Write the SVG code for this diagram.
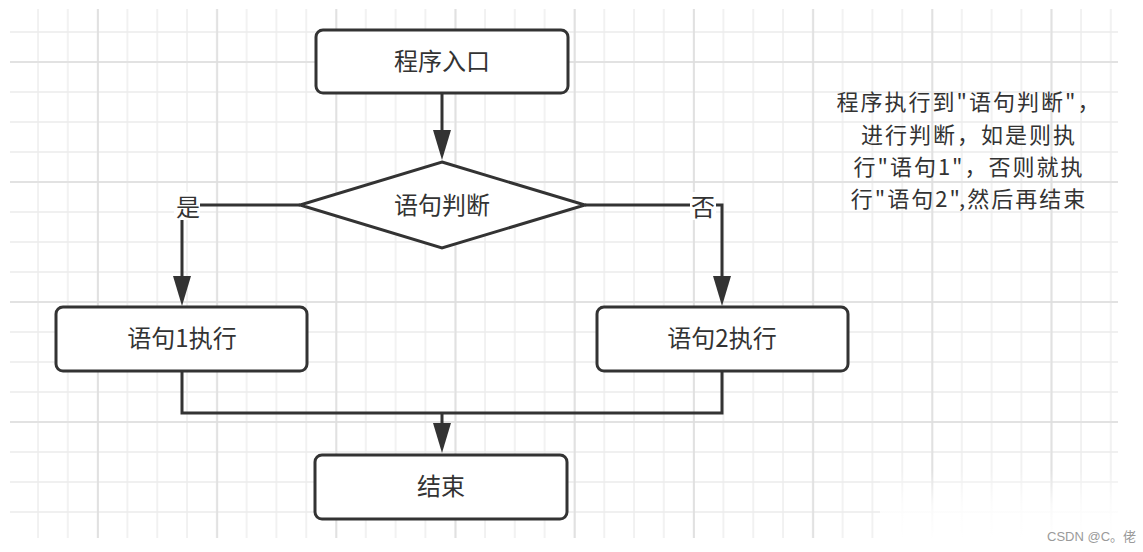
<svg xmlns="http://www.w3.org/2000/svg" width="1143" height="552" viewBox="0 0 1143 552">
<style>
.box{fill:#fff;stroke:#333;stroke-width:3}
.lbl{font-family:"Noto Sans CJK SC","Noto Sans",sans-serif;font-size:24px;fill:#333;text-anchor:middle}
.conn{fill:none;stroke:#333;stroke-width:3}
.note{font-family:"Noto Sans CJK SC","Noto Sans",sans-serif;font-size:22px;letter-spacing:2px;fill:#333;text-anchor:middle}
.wm{font-family:"Liberation Sans","Noto Sans CJK SC",sans-serif;font-size:13px;fill:#9a9a9a}
</style>
<defs>
<pattern id="minor" x="37" y="31" width="29.8" height="30" patternUnits="userSpaceOnUse">
<path d="M1 0V30M0 1H29.8" stroke="#ececec" stroke-width="1.4" fill="none"/>
</pattern>
<pattern id="major" x="97" y="61" width="119.2" height="120" patternUnits="userSpaceOnUse">
<path d="M1 0V120M0 1H119.2" stroke="#dedede" stroke-width="1.6" fill="none"/>
</pattern>
<marker id="arr" viewBox="0 -9 30 18" refX="20" refY="0" markerWidth="30" markerHeight="18" markerUnits="userSpaceOnUse" orient="auto">
<path d="M0,-9 L30,0 L0,9 Z" fill="#333"/>
</marker>
<linearGradient id="fade" x1="0" y1="0" x2="0" y2="1">
<stop offset="0" stop-color="#fff" stop-opacity="0"/>
<stop offset="0.5" stop-color="#fff" stop-opacity="0.8"/>
<stop offset="1" stop-color="#fff" stop-opacity="1"/>
</linearGradient>
</defs>
<rect width="1143" height="552" fill="#fff"/>
<g id="grid">
<rect x="10" y="9" width="1108" height="529" fill="url(#minor)"/>
<rect x="10" y="9" width="1108" height="529" fill="url(#major)"/>
<rect x="880" y="470" width="240" height="70" fill="url(#fade)"/>
</g>
<g id="connectors">
<path class="conn" d="M442 93V150" marker-end="url(#arr)"/>
<path class="conn" d="M300 205H182V296" marker-end="url(#arr)"/>
<path class="conn" d="M585 205H722V296" marker-end="url(#arr)"/>
<path class="conn" d="M182 371V413H722V371"/>
<path class="conn" d="M442 413V443" marker-end="url(#arr)"/>
<rect x="174" y="192" width="26" height="28" fill="#fff"/>
<text class="lbl" x="188" y="216">是</text>
<rect x="690" y="192" width="26" height="28" fill="#fff"/>
<text class="lbl" x="703" y="216">否</text>
</g>
<g id="start">
<rect class="box" x="316" y="30" width="252" height="63" rx="7"/>
<text class="lbl" x="442" y="70">程序入口</text>
</g>
<g id="decision">
<polygon class="box" points="442,162 585,205 442,248 300,205"/>
<text class="lbl" x="442" y="214">语句判断</text>
</g>
<g id="stmt1">
<rect class="box" x="56" y="307" width="251" height="64" rx="7"/>
<text class="lbl" x="182" y="347">语句1执行</text>
</g>
<g id="stmt2">
<rect class="box" x="597" y="307" width="251" height="64" rx="7"/>
<text class="lbl" x="722" y="347">语句2执行</text>
</g>
<g id="end">
<rect class="box" x="315" y="455" width="252" height="64" rx="7"/>
<text class="lbl" x="441" y="495">结束</text>
</g>
<g id="note">
<text class="note" x="969" y="110">程序执行到"语句判断"，</text>
<text class="note" x="969" y="143">进行判断，如是则执</text>
<text class="note" x="969" y="175">行"语句1"，否则就执</text>
<text class="note" x="969" y="207">行"语句2",然后再结束</text>
</g>
<text class="wm" x="1047" y="541">CSDN @C。佬</text>
</svg>
